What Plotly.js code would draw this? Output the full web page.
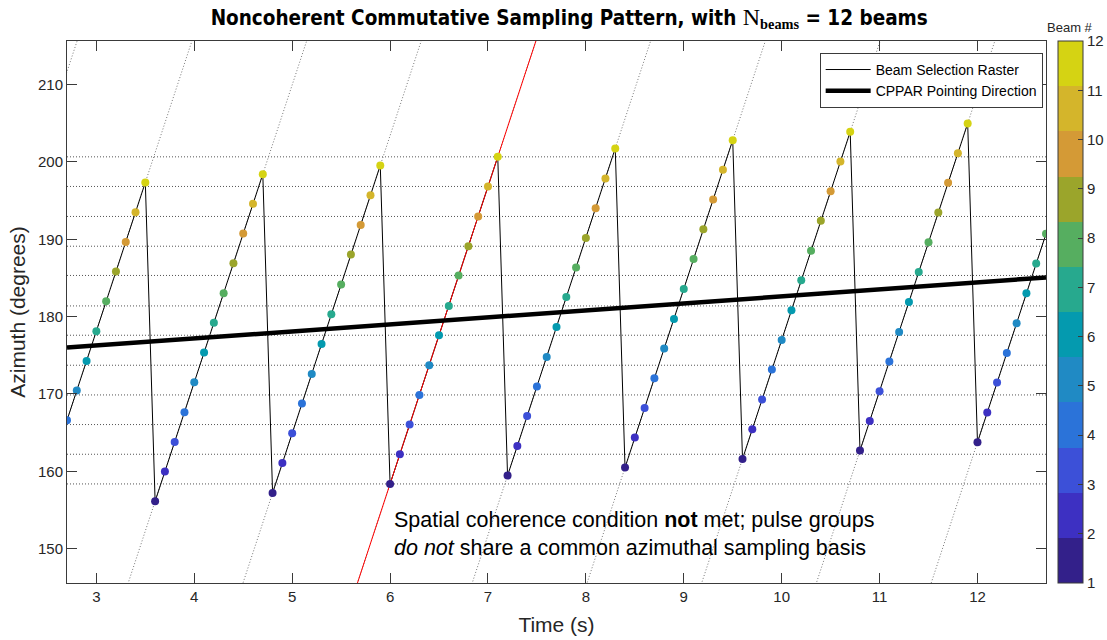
<!DOCTYPE html>
<html><head><meta charset="utf-8">
<script src="https://cdn.plot.ly/plotly-3.0.1.min.js"></script>
<style>html,body{margin:0;padding:0;background:#fff}#chart{width:1107px;height:640px}</style>
</head><body><div id="chart"></div>
<script>
// ---- data ----
const timeS = [
  2.7, 2.8, 2.9, 3.0, 3.1, 3.2, 3.3, 3.4, 3.5,
  3.6, 3.7, 3.8, 3.9, 4.0, 4.1, 4.2, 4.3, 4.4, 4.5, 4.6, 4.7,
  4.8, 4.9, 5.0, 5.1, 5.2, 5.3, 5.4, 5.5, 5.6, 5.7, 5.8, 5.9,
  6.0, 6.1, 6.2, 6.3, 6.4, 6.5, 6.6, 6.7, 6.8, 6.9, 7.0, 7.1,
  7.2, 7.3, 7.4, 7.5, 7.6, 7.7, 7.8, 7.9, 8.0, 8.1, 8.2, 8.3,
  8.4, 8.5, 8.6, 8.7, 8.8, 8.9, 9.0, 9.1, 9.2, 9.3, 9.4, 9.5,
  9.6, 9.7, 9.8, 9.9, 10.0, 10.1, 10.2, 10.3, 10.4, 10.5, 10.6, 10.7,
  10.8, 10.9, 11.0, 11.1, 11.2, 11.3, 11.4, 11.5, 11.6, 11.7, 11.8, 11.9,
  12.0, 12.1, 12.2, 12.3, 12.4, 12.5, 12.6, 12.7
];
const beamNo = [
  4, 5, 6, 7, 8, 9, 10, 11, 12,
  1, 2, 3, 4, 5, 6, 7, 8, 9, 10, 11, 12,
  1, 2, 3, 4, 5, 6, 7, 8, 9, 10, 11, 12,
  1, 2, 3, 4, 5, 6, 7, 8, 9, 10, 11, 12,
  1, 2, 3, 4, 5, 6, 7, 8, 9, 10, 11, 12,
  1, 2, 3, 4, 5, 6, 7, 8, 9, 10, 11, 12,
  1, 2, 3, 4, 5, 6, 7, 8, 9, 10, 11, 12,
  1, 2, 3, 4, 5, 6, 7, 8, 9, 10, 11, 12,
  1, 2, 3, 4, 5, 6, 7, 8
];
const azDeg = [
  166.60, 170.44, 174.27, 178.11, 181.99, 185.83, 189.66, 193.50, 197.35,
  156.12, 159.96, 163.79, 167.63, 171.51, 175.36, 179.19, 183.03, 186.91, 190.75, 194.58, 198.42,
  157.19, 161.07, 164.92, 168.76, 172.59, 176.47, 180.31, 184.15, 188.03, 191.86, 195.70, 199.55,
  158.36, 162.20, 166.04, 169.87, 173.71, 177.59, 181.38, 185.32, 189.10, 192.95, 196.83, 200.66,
  159.44, 163.27, 167.15, 170.96, 174.79, 178.67, 182.55, 186.35, 190.18, 194.02, 197.86, 201.75,
  160.48, 164.36, 168.19, 172.03, 175.87, 179.70, 183.58, 187.46, 191.30, 195.15, 198.98, 202.82,
  161.59, 165.43, 169.27, 173.16, 176.99, 180.83, 184.71, 188.50, 192.38, 196.22, 200.06, 203.89,
  162.68, 166.51, 170.35, 174.19, 178.02, 181.90, 185.78, 189.62, 193.47, 197.30, 201.14, 204.98,
  163.75, 167.59, 171.47, 175.30, 179.15, 183.03, 186.87, 190.70
];
// azimuths of the reference pulse group (horizontal dotted lines)
const refAz = [158.36, 162.20, 166.04, 169.87, 173.71, 177.59, 181.38, 185.32, 189.10, 192.95, 196.83, 200.66];
// end of the preceding (off-chart) pulse group, whose raster is visible top-left
const prevGroupT = [2.3];
const prevGroupAz = [196.3];
// CPPAR pointing direction
const pointT = [2.7, 12.7];
const pointAz = [176.0, 185.06];
const redGroupIndex = 3;
const beamColors = ['#33208a','#3d30c2','#3c50d8','#2b73d9','#208ac4','#049aaf',
                    '#27a98e','#56ae60','#9ba52b','#d49a36','#d4b52b','#d5d313'];
const beamTicks = [1,2,3,4,5,6,7,8,9,10,11,12];
const xTicks = [3,4,5,6,7,8,9,10,11,12];
const yTicks = [150,160,170,180,190,200,210];

// ---- split into pulse groups (a new group starts at beam 1) ----
const groups = [];
for (let i = 0; i < timeS.length; i++) {
  if (i === 0 || beamNo[i] < beamNo[i-1]) groups.push({t: [], a: []});
  groups[groups.length-1].t.push(timeS[i]);
  groups[groups.length-1].a.push(azDeg[i]);
}
function extLine(t0, a0, t1, a1, slope) {
  return {x: [t0 - 3, t1 + 3], y: [a0 - 3*slope, a1 + 3*slope]};
}
const gx = [], gy = [];
let slope0 = 0;
groups.forEach((g, k) => {
  const n = g.t.length;
  const s = (g.a[n-1] - g.a[0]) / (g.t[n-1] - g.t[0]);
  if (k === 0) slope0 = s;
  g.slope = s;
  const e = extLine(g.t[0], g.a[0], g.t[n-1], g.a[n-1], s);
  gx.push(e.x[0], e.x[1], null); gy.push(e.y[0], e.y[1], null);
});
{ const e = extLine(prevGroupT[0], prevGroupAz[0], prevGroupT[0], prevGroupAz[0], slope0);
  gx.push(e.x[0], e.x[1], null); gy.push(e.y[0], e.y[1], null); }
const rg = groups[redGroupIndex];
const redL = extLine(rg.t[0], rg.a[0], rg.t[rg.t.length-1], rg.a[rg.a.length-1], rg.slope);

const cs = [];
beamColors.forEach((c, i) => { cs.push([i/12, c]); cs.push([(i+1)/12, c]); });

const FONT = 'Liberation Sans, Arial, Helvetica, sans-serif';
const TXT = '#262626';
const AX = '#3a3a3a';

const traces = [
  {x: gx, y: gy, mode: 'lines', line: {color: '#777', width: 1, dash: '1px,2px'}, showlegend: false, hoverinfo: 'skip'},
  {x: timeS, y: azDeg, mode: 'lines', name: 'Beam Selection Raster', line: {color: '#000', width: 1}},
  {x: redL.x, y: redL.y, mode: 'lines', line: {color: '#ff0000', width: 1}, showlegend: false},
  {x: pointT, y: pointAz, mode: 'lines', name: 'CPPAR Pointing Direction', line: {color: '#000', width: 4.5}},
  {x: timeS, y: azDeg, mode: 'markers', showlegend: false,
   marker: {size: 8, color: beamNo, colorscale: cs, cmin: 1, cmax: 12, showscale: true,
     colorbar: {x: 1.0123, xanchor: 'left', xpad: 0, ypad: 0, y: 0.5, yanchor: 'middle', len: 1, lenmode: 'fraction',
       thickness: 25, thicknessmode: 'pixels', outlinecolor: AX, outlinewidth: 1,
       tickvals: beamTicks, ticks: 'inside', ticklen: 5, tickcolor: AX,
       tickfont: {family: FONT, size: 15, color: TXT}}}}
];

const shapes = refAz.map(v => ({type: 'line', xref: 'paper', x0: 0, x1: 1, yref: 'y', y0: v, y1: v,
  layer: 'below', line: {color: '#555', width: 1, dash: '1px,2px'}}));

const layout = {
  width: 1107, height: 640,
  margin: {l: 67, r: 61, t: 41, b: 57, autoexpand: false},
  paper_bgcolor: '#fff', plot_bgcolor: '#fff',
  font: {family: FONT, color: TXT},
  title: {text: '<b>Noncoherent Commutative Sampling Pattern, with </b><span style="font-family:Liberation Serif;font-size:24px">N</span><sub><b style="font-family:Liberation Serif">beams</b></sub><b> = 12 beams</b>',
    font: {family: 'Liberation Sans Narrow, Arial Narrow, DejaVu Sans Condensed, sans-serif', size: 20.5, color: '#000'},
    x: 0.513, xanchor: 'center', xref: 'paper', y: 0.972, yanchor: 'middle', yref: 'container'},
  xaxis: {range: [2.7, 12.7], tickvals: xTicks, ticks: 'inside', ticklen: 10, tickcolor: AX,
    showline: true, linecolor: AX, linewidth: 1, mirror: 'ticks', showgrid: false, zeroline: false,
    tickfont: {family: FONT, size: 15, color: TXT},
    title: {text: 'Time (s)', font: {family: FONT, size: 21, color: TXT}, standoff: 13}},
  yaxis: {range: [145.55, 215.64], tickvals: yTicks, ticks: 'inside', ticklen: 10, tickcolor: AX,
    showline: true, linecolor: AX, linewidth: 1, mirror: 'ticks', showgrid: false, zeroline: false,
    tickfont: {family: FONT, size: 15, color: TXT},
    title: {text: 'Azimuth (degrees)', font: {family: FONT, size: 21, color: TXT}, standoff: 6}},
  showlegend: true,
  legend: {x: 0.9966, xanchor: 'right', y: 0.978, yanchor: 'top', bgcolor: '#fff', itemwidth: 45,
    bordercolor: AX, borderwidth: 1, font: {family: FONT, size: 14, color: '#000'}, tracegroupgap: 0},
  shapes: shapes,
  annotations: [
    {xref: 'x', yref: 'y', x: 6.02, y: 151.85, xanchor: 'left', yanchor: 'middle', align: 'left',
     showarrow: false, text: 'Spatial coherence condition <b>not</b> met; pulse groups<br><i>do not</i> share a common azimuthal sampling basis',
     font: {family: FONT, size: 21.5, color: '#000'}},
    {xref: 'paper', yref: 'paper', x: 1.0245, y: 1.0258, xanchor: 'center', yanchor: 'middle',
     showarrow: false, text: 'Beam #', font: {family: FONT, size: 13, color: TXT}}
  ]
};
Plotly.newPlot('chart', traces, layout, {displayModeBar: false, staticPlot: true});
</script></body></html>
